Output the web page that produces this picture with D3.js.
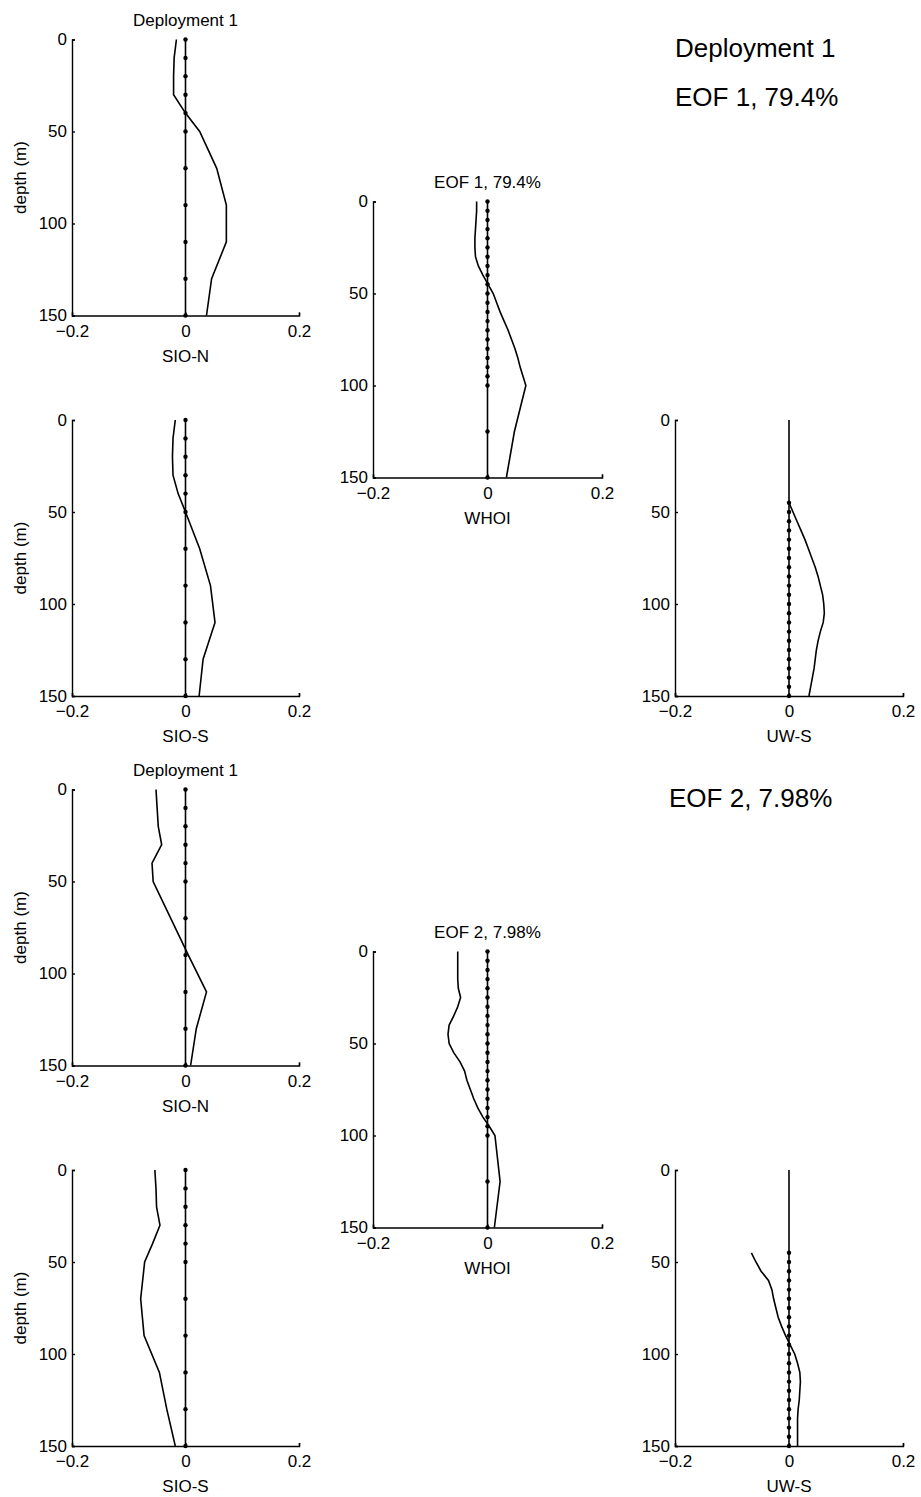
<!DOCTYPE html>
<html>
<head>
<meta charset="utf-8">
<script src="https://cdn.jsdelivr.net/npm/d3@7"></script>
<style>
  body { margin: 0; background: #fff; }
  text { font-family: "Liberation Sans", Arial, Helvetica, sans-serif; fill: #000; }
</style>
</head>
<body>
<div id="chart"></div>
<script>
// Depths (m) of the instruments on each mooring
var sioDepths = [0, 10, 20, 30, 40, 50, 70, 90, 110, 130, 150];
var whoiDepths = [0, 5, 10, 15, 20, 25, 30, 35, 40, 45, 50, 55, 60, 65, 70, 75, 80, 85, 90, 95, 100, 125, 150];
var uwDepths = [45, 50, 55, 60, 65, 70, 75, 80, 85, 90, 95, 100, 105, 110, 115, 120, 125, 130, 135, 140, 145, 150];

// EOF 1 profiles
var sioN1 = [-0.016, -0.020, -0.021, -0.021, 0.000, 0.025, 0.055, 0.072, 0.072, 0.046, 0.037];
var sioS1 = [-0.018, -0.022, -0.023, -0.022, -0.013, 0.000, 0.025, 0.044, 0.052, 0.031, 0.024];
var whoi1 = [-0.019, -0.019, -0.020, -0.021, -0.022, -0.022, -0.021, -0.016, -0.008, 0.001, 0.010, 0.016,
             0.022, 0.029, 0.036, 0.042, 0.048, 0.053, 0.057, 0.062, 0.067, 0.047, 0.033];
var uw1 = [0.000, 0.007, 0.014, 0.021, 0.028, 0.034, 0.040, 0.046, 0.051, 0.055, 0.059, 0.061,
           0.062, 0.060, 0.055, 0.051, 0.048, 0.046, 0.044, 0.041, 0.038, 0.035];

// EOF 2 profiles
var sioN2 = [-0.052, -0.050, -0.048, -0.042, -0.059, -0.057, -0.026, 0.005, 0.037, 0.019, 0.009];
var sioS2 = [-0.054, -0.052, -0.051, -0.045, -0.058, -0.072, -0.079, -0.073, -0.046, -0.033, -0.018];
var whoi2 = [-0.052, -0.052, -0.052, -0.052, -0.051, -0.047, -0.052, -0.059, -0.067, -0.069, -0.067, -0.059,
             -0.048, -0.040, -0.036, -0.030, -0.024, -0.017, -0.008, 0.003, 0.013, 0.022, 0.012];
var uw2 = [-0.066, -0.058, -0.049, -0.036, -0.030, -0.027, -0.023, -0.019, -0.013, -0.006, 0.002, 0.010,
           0.015, 0.019, 0.020, 0.019, 0.018, 0.016, 0.015, 0.015, 0.015, 0.015];

// Axis ticks
var xTicks = [-0.2, 0, 0.2];
var yTicks = [0, 50, 100, 150];

// Headings
var eofLabels = ["EOF 1, 79.4%", "EOF 2, 7.98%"];

var svgWidth = 921;
var svgHeight = 1497;
var panelHeight = 276;
var blockShift = 750;

var svg = d3.select("#chart")
  .append("svg")
  .attr("width", svgWidth)
  .attr("height", svgHeight);

// Panel layout: one block per EOF
var panels = [
  {x0: 72, x1: 299, top: 39.5, depths: sioDepths, eof: [sioN1, sioN2], label: "SIO-N", title: "Deployment 1", ylab: true},
  {x0: 373, x1: 602, top: 201.5, depths: whoiDepths, eof: [whoi1, whoi2], label: "WHOI", title: "eof", ylab: false},
  {x0: 72, x1: 299, top: 420, depths: sioDepths, eof: [sioS1, sioS2], label: "SIO-S", title: null, ylab: true},
  {x0: 675, x1: 903, top: 420, depths: uwDepths, eof: [uw1, uw2], label: "UW-S", title: null, ylab: false}
];

function fmtX(d) {
  return d === 0 ? "0" : d3.format(".1f")(d);
}

[0, 1].forEach(function(k) {
  panels.forEach(function(p) {
    var top = p.top + k * blockShift;
    var xScale = d3.scaleLinear().domain([-0.2, 0.2]).range([p.x0, p.x1]);
    var yScale = d3.scaleLinear().domain([0, 150]).range([top, top + panelHeight]);

    var g = svg.append("g");

    // axes (inward ticks, matlab style)
    var leftAxis = d3.axisLeft(yScale).tickValues(yTicks).tickSize(-3).tickPadding(5);
    var bottomAxis = d3.axisBottom(xScale).tickValues(xTicks).tickSize(-3).tickPadding(9).tickFormat(fmtX);

    var yAxis = g.append("g")
      .attr("transform", `translate(${p.x0}, 0)`)
      .call(leftAxis);
    var xAxis = g.append("g")
      .attr("transform", `translate(0, ${top + panelHeight})`)
      .call(bottomAxis);

    [xAxis, yAxis].forEach(function(ax) {
      ax.attr("font-size", 17).attr("font-family", null);
      ax.selectAll("path, line").attr("stroke", "#000").attr("stroke-width", 1.4);
    });

    // zero line and instrument depths
    var line = d3.line()
      .x(d => xScale(d[0]))
      .y(d => yScale(d[1]));

    g.append("path")
      .attr("d", line([[0, 0], [0, 150]]))
      .attr("fill", "none")
      .attr("stroke", "#000")
      .attr("stroke-width", 1.6);

    g.selectAll("circle")
      .data(p.depths)
      .enter()
      .append("circle")
      .attr("cx", xScale(0))
      .attr("cy", d => yScale(d))
      .attr("r", 2.2)
      .attr("fill", "#000");

    // EOF profile
    var profile = p.eof[k].map((v, i) => [v, p.depths[i]]);
    g.append("path")
      .attr("d", line(profile))
      .attr("fill", "none")
      .attr("stroke", "#000")
      .attr("stroke-width", 1.6);

    // labels
    g.append("text")
      .attr("x", (p.x0 + p.x1) / 2)
      .attr("y", top + panelHeight + 46)
      .attr("text-anchor", "middle")
      .attr("font-size", 17)
      .text(p.label);

    if (p.title) {
      g.append("text")
        .attr("x", (p.x0 + p.x1) / 2)
        .attr("y", top - 14)
        .attr("text-anchor", "middle")
        .attr("font-size", 17)
        .text(p.title === "eof" ? eofLabels[k] : p.title);
    }

    if (p.ylab) {
      g.append("text")
        .attr("transform", `translate(26, ${top + panelHeight / 2}) rotate(-90)`)
        .attr("text-anchor", "middle")
        .attr("font-size", 17)
        .text("depth (m)");
    }
  });
});

// Big headings on the right
svg.append("text")
  .attr("x", 675)
  .attr("y", 57)
  .attr("font-size", 26)
  .text("Deployment 1");

svg.append("text")
  .attr("x", 675)
  .attr("y", 106)
  .attr("font-size", 26)
  .text(eofLabels[0]);

svg.append("text")
  .attr("x", 669)
  .attr("y", 807)
  .attr("font-size", 26)
  .text(eofLabels[1]);
</script>
</body>
</html>
